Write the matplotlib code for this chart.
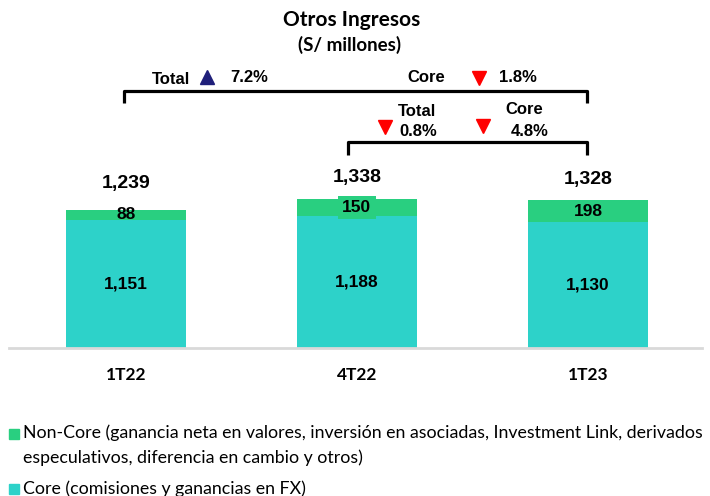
import matplotlib
matplotlib.use("Agg")
import matplotlib.pyplot as plt
from matplotlib.patches import Rectangle

# ── 資料 ──────────────────────────────────────────────
periods = ["1T22", "4T22", "1T23"]
core = [1151, 1188, 1130]
non_core = [88, 150, 198]
totals = [1239, 1338, 1328]

legend_noncore = ("Non-Core (ganancia neta en valores, inversión en asociadas, Investment Link, derivados\n"
                  "especulativos, diferencia en cambio y otros)")
legend_core = "Core (comisiones y ganancias en FX)"

C_CORE = "#2DD2C9"
C_NONCORE = "#29CF80"
ARIAL = "Liberation Sans"
CALIBRI = "Lato"

W, H = 710, 496
fig = plt.figure(figsize=(W / 100, H / 100), dpi=100)

# 主軸：底線在 y=348 px
ax = fig.add_axes([9 / W, (H - 348) / H, 693 / W, 348 / H])
xs = range(len(periods))
ax.bar(xs, core, width=0.52, color=C_CORE)
ax.bar(xs, non_core, width=0.52, bottom=core, color=C_NONCORE)
ax.set_xlim(-0.506, 2.494)
ax.set_ylim(0, 348 / 0.11138)
for s in ["top", "right", "left"]:
    ax.spines[s].set_visible(False)
ax.spines["bottom"].set_color("#D9D9D9")
ax.spines["bottom"].set_linewidth(2)
ax.set_yticks([])
ax.set_xticks(list(xs))
ax.set_xticklabels(periods, fontfamily=CALIBRI, fontweight="bold", fontsize=12.5)
ax.tick_params(axis="x", length=0, pad=14)

top_pad = [27, 21, 21]
for i in xs:
    ax.text(i, core[i] / 2, f"{core[i]:,}", ha="center", va="center",
            fontfamily=ARIAL, fontweight="bold", fontsize=12.5)
    bb = dict(facecolor=C_NONCORE, edgecolor="none", pad=3) if i == 1 else None
    ax.text(i, core[i] + non_core[i] / 2, f"{non_core[i]:,}", ha="center", va="center",
            fontfamily=ARIAL, fontweight="bold", fontsize=12.5, bbox=bb)
    ax.annotate(f"{totals[i]:,}", (i, totals[i]), xytext=(0, top_pad[i]),
                textcoords="offset pixels", ha="center", va="center",
                fontfamily=ARIAL, fontweight="bold", fontsize=14)

# ── 標註層（像素座標） ──────────────────────────────
ov = fig.add_axes([0, 0, 1, 1], facecolor="none")
ov.set_xlim(0, W)
ov.set_ylim(H, 0)
ov.axis("off")

ov.text(352, 20, "Otros Ingresos", ha="center", va="center",
        fontfamily=CALIBRI, fontweight="bold", fontsize=15)
ov.text(350, 45, "(S/ millones)", ha="center", va="center",
        fontfamily=CALIBRI, fontweight="bold", fontsize=13.5)

ov.plot([124, 124, 587, 587], [103, 91, 91, 103], color="black", lw=2.3,
        solid_joinstyle="round", solid_capstyle="butt")
ov.plot([348, 348, 587, 587], [155, 142, 142, 155], color="black", lw=2.3,
        solid_joinstyle="round", solid_capstyle="butt")

txt = dict(fontfamily=ARIAL, fontweight="bold", fontsize=12, va="center", ha="left")
ov.text(152, 79, "Total", **txt)
ov.text(230, 78, "7.2%", **txt)
ov.text(407, 77, "Core", **txt)
ov.text(499, 78, "1.8%", **txt)
ov.text(398, 112, "Total", **txt)
ov.text(399, 131, "0.8%", **txt)
ov.text(505, 110, "Core", **txt)
ov.text(511, 131, "4.8%", **txt)

ov.plot([207], [77], marker="^", color="#1F1F7A", ms=10, ls="none")
for px, py in [(479, 78), (385, 127), (483, 126)]:
    ov.plot([px], [py], marker="v", color="#FF0000", ms=10, ls="none")

# ── 圖例 ──────────────────────────────────────────
ov.add_patch(Rectangle((9, 429), 10, 10, color=C_NONCORE))
ov.text(23, 424, legend_noncore, fontfamily=CALIBRI, fontsize=12.8, va="top",
        ha="left", linespacing=1.65)
ov.add_patch(Rectangle((9, 484), 10, 10, color=C_CORE))
ov.text(23, 489, legend_core, fontfamily=CALIBRI, fontsize=12.8, va="center", ha="left")

fig.savefig("out.png", dpi=100)
